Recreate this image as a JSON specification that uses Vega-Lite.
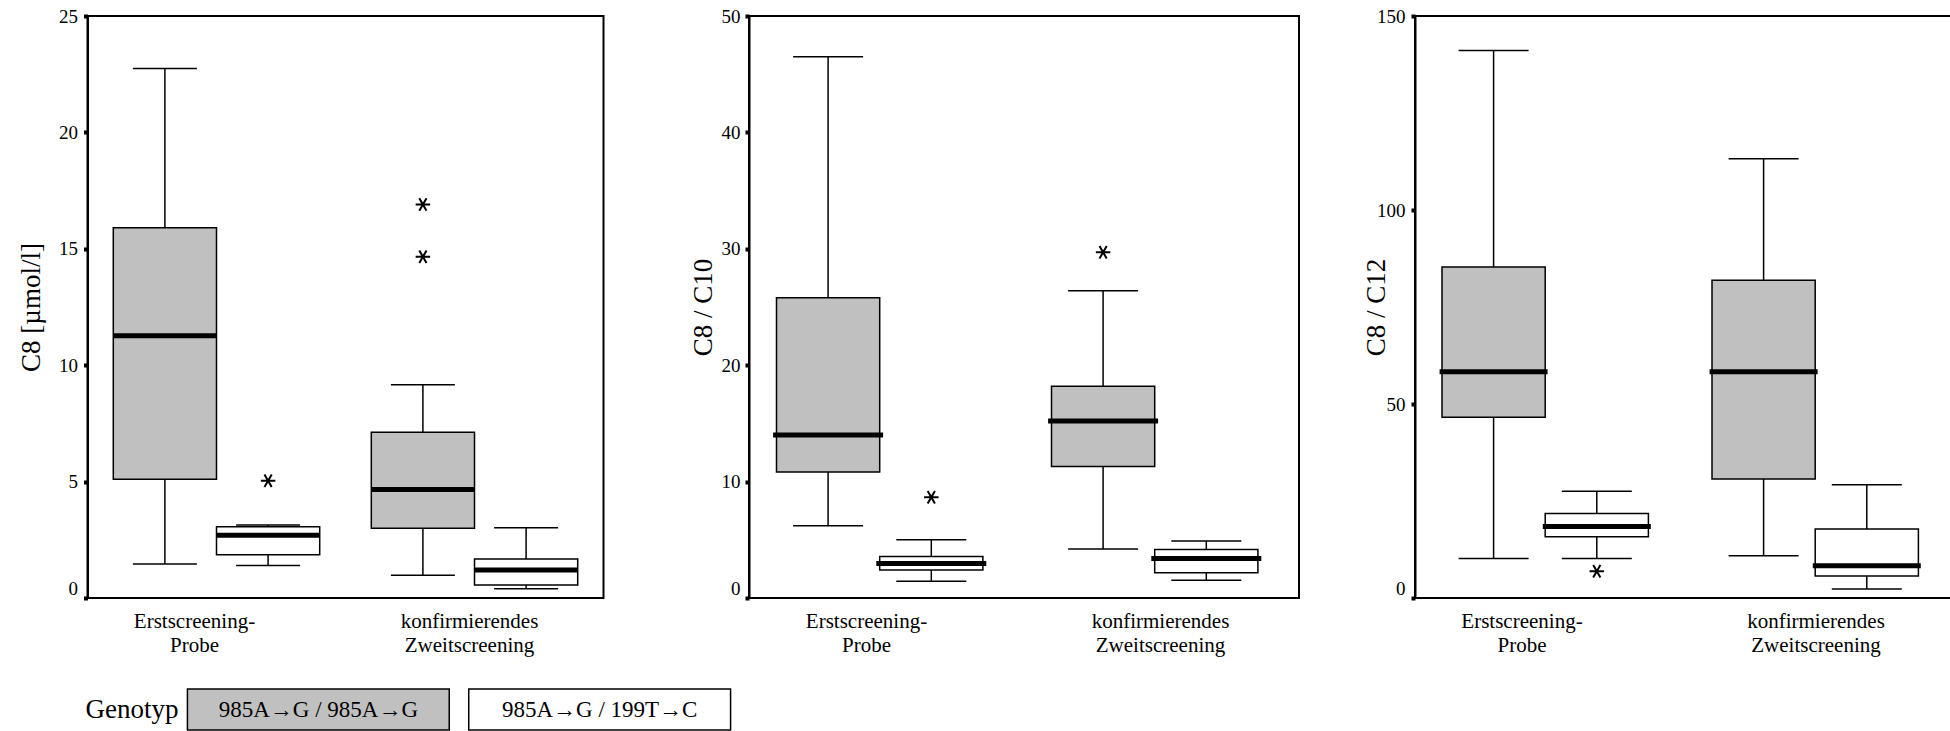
{
  "$schema": "https://vega.github.io/schema/vega-lite/v6.json",
  "background": "white",
  "padding": {"left": 16.5, "top": 6, "right": 0, "bottom": 0},
  "config": {
    "font": "Liberation Serif",
    "view": {"stroke": "black", "strokeWidth": 2},
    "axis": {"grid": false, "labelColor": "black", "titleColor": "black", "domainColor": "black", "tickColor": "black", "labelFont": "Liberation Serif", "titleFont": "Liberation Serif", "titleFontWeight": "normal"}
  },
  "datasets": {
    "p1box": [
      {"cat": "Erstscreening-Probe", "geno": "985A→G / 985A→G", "min": 1.46, "q1": 5.1, "median": 11.26, "q3": 15.9, "max": 22.75},
      {"cat": "Erstscreening-Probe", "geno": "985A→G / 199T→C", "min": 1.4, "q1": 1.86, "median": 2.7, "q3": 3.06, "max": 3.14},
      {"cat": "konfirmierendes Zweitscreening", "geno": "985A→G / 985A→G", "min": 0.98, "q1": 3.0, "median": 4.66, "q3": 7.12, "max": 9.16},
      {"cat": "konfirmierendes Zweitscreening", "geno": "985A→G / 199T→C", "min": 0.4, "q1": 0.56, "median": 1.2, "q3": 1.68, "max": 3.02}
    ],
    "p1out": [
      {"cat": "Erstscreening-Probe", "geno": "985A→G / 199T→C", "value": 5.04},
      {"cat": "konfirmierendes Zweitscreening", "geno": "985A→G / 985A→G", "value": 16.9},
      {"cat": "konfirmierendes Zweitscreening", "geno": "985A→G / 985A→G", "value": 14.66}
    ],
    "p2box": [
      {"cat": "Erstscreening-Probe", "geno": "985A→G / 985A→G", "min": 6.2, "q1": 10.83, "median": 14.0, "q3": 25.8, "max": 46.5},
      {"cat": "Erstscreening-Probe", "geno": "985A→G / 199T→C", "min": 1.44, "q1": 2.4, "median": 2.97, "q3": 3.57, "max": 5.0},
      {"cat": "konfirmierendes Zweitscreening", "geno": "985A→G / 985A→G", "min": 4.2, "q1": 11.3, "median": 15.2, "q3": 18.2, "max": 26.4},
      {"cat": "konfirmierendes Zweitscreening", "geno": "985A→G / 199T→C", "min": 1.52, "q1": 2.17, "median": 3.4, "q3": 4.17, "max": 4.9}
    ],
    "p2out": [
      {"cat": "Erstscreening-Probe", "geno": "985A→G / 199T→C", "value": 8.66},
      {"cat": "konfirmierendes Zweitscreening", "geno": "985A→G / 985A→G", "value": 29.7}
    ],
    "p3box": [
      {"cat": "Erstscreening-Probe", "geno": "985A→G / 985A→G", "min": 10.2, "q1": 46.6, "median": 58.3, "q3": 85.3, "max": 141.1},
      {"cat": "Erstscreening-Probe", "geno": "985A→G / 199T→C", "min": 10.2, "q1": 15.8, "median": 18.4, "q3": 21.8, "max": 27.5},
      {"cat": "konfirmierendes Zweitscreening", "geno": "985A→G / 985A→G", "min": 10.9, "q1": 30.7, "median": 58.3, "q3": 81.9, "max": 113.2},
      {"cat": "konfirmierendes Zweitscreening", "geno": "985A→G / 199T→C", "min": 2.3, "q1": 5.65, "median": 8.3, "q3": 17.8, "max": 29.2}
    ],
    "p3out": [
      {"cat": "Erstscreening-Probe", "geno": "985A→G / 199T→C", "value": 6.9}
    ],
    "legend": [
      {"geno": "985A→G / 985A→G"},
      {"geno": "985A→G / 199T→C"}
    ]
  },
  "vconcat": [
    {
      "spacing": 60.5,
      "hconcat": [
        {
          "spacing": 83.5,
          "hconcat": [
            {
              "width": 516, "height": 582,
              "layer": [
                {"data": {"name": "p1box"}, "mark": {"type": "rule", "color": "black", "strokeWidth": 1.5},
                 "encoding": {
                   "x": {"field": "cat", "type": "nominal", "scale": {"type": "band", "domain": ["Erstscreening-Probe", "konfirmierendes Zweitscreening"], "paddingInner": 0.2, "paddingOuter": 0.1},
                         "axis": {"title": null, "ticks": false, "domain": false, "labelFontSize": 21, "labelLineHeight": 24, "labelPadding": 12, "labelAngle": 0, "labelOverlap": false, "labelLimit": 0,
                                  "labelExpr": "datum.value == 'Erstscreening-Probe' ? ['Erstscreening-', 'Probe'] : ['konfirmierendes', 'Zweitscreening']",
                                  "labelOffset": {"condition": {"test": "datum.value === 'Erstscreening-Probe'", "value": -22}, "value": -5}}},
                   "xOffset": {"field": "geno", "type": "nominal", "scale": {"domain": ["985A→G / 985A→G", "985A→G / 199T→C"], "paddingInner": 0, "paddingOuter": 0}},
                   "y": {"field": "min", "type": "quantitative", "scale": {"domain": [0, 25], "nice": false},
                         "axis": {"title": "C8 [µmol/l]", "values": [0, 5, 10, 15, 20, 25], "tickSize": 4, "tickWidth": 4, "domainWidth": 2, "labelFontSize": 19, "labelPadding": 6, "titleFontSize": 27, "titleX": -56, "titleBaseline": "middle",
                                  "labelOffset": {"condition": {"test": "datum.value === 0", "value": -10}, "value": 0}}},
                   "y2": {"field": "max"}
                 }},
                {"data": {"name": "p1box"}, "mark": {"type": "bar", "stroke": "black", "strokeWidth": 1.5},
                 "encoding": {"x": {"field": "cat", "type": "nominal"}, "xOffset": {"field": "geno", "type": "nominal"},
                   "y": {"field": "q1", "type": "quantitative"}, "y2": {"field": "q3"},
                   "fill": {"field": "geno", "type": "nominal", "scale": {"domain": ["985A→G / 985A→G", "985A→G / 199T→C"], "range": ["#c0c0c0", "#ffffff"]}, "legend": null}}},
                {"data": {"name": "p1box"}, "mark": {"type": "tick", "color": "black", "thickness": 5, "size": 103, "opacity": 1},
                 "encoding": {"x": {"field": "cat", "type": "nominal"}, "xOffset": {"field": "geno", "type": "nominal"}, "y": {"field": "median", "type": "quantitative"}}},
                {"data": {"name": "p1box"}, "mark": {"type": "tick", "color": "black", "thickness": 1.5, "size": 64, "opacity": 1},
                 "encoding": {"x": {"field": "cat", "type": "nominal"}, "xOffset": {"field": "geno", "type": "nominal"}, "y": {"field": "min", "type": "quantitative"}}},
                {"data": {"name": "p1box"}, "mark": {"type": "tick", "color": "black", "thickness": 1.5, "size": 64, "opacity": 1},
                 "encoding": {"x": {"field": "cat", "type": "nominal"}, "xOffset": {"field": "geno", "type": "nominal"}, "y": {"field": "max", "type": "quantitative"}}},
                {"data": {"name": "p1out"}, "mark": {"type": "point", "shape": "M-1,0L1,0M-0.5,-0.866L0.5,0.866M-0.5,0.866L0.5,-0.866", "size": 210, "filled": false, "stroke": "black", "strokeWidth": 2, "opacity": 1},
                 "encoding": {"x": {"field": "cat", "type": "nominal"}, "xOffset": {"field": "geno", "type": "nominal"}, "y": {"field": "value", "type": "quantitative"}}}
              ]
            },
            {
              "width": 550, "height": 582,
              "layer": [
                {"data": {"name": "p2box"}, "mark": {"type": "rule", "color": "black", "strokeWidth": 1.5},
                 "encoding": {
                   "x": {"field": "cat", "type": "nominal", "scale": {"type": "band", "domain": ["Erstscreening-Probe", "konfirmierendes Zweitscreening"], "paddingInner": 0.2, "paddingOuter": 0.1},
                         "axis": {"title": null, "ticks": false, "domain": false, "labelFontSize": 21, "labelLineHeight": 24, "labelPadding": 12, "labelAngle": 0, "labelOverlap": false, "labelLimit": 0,
                                  "labelExpr": "datum.value == 'Erstscreening-Probe' ? ['Erstscreening-', 'Probe'] : ['konfirmierendes', 'Zweitscreening']",
                                  "labelOffset": {"condition": {"test": "datum.value === 'Erstscreening-Probe'", "value": -20}, "value": -1}}},
                   "xOffset": {"field": "geno", "type": "nominal", "scale": {"domain": ["985A→G / 985A→G", "985A→G / 199T→C"], "paddingInner": 0, "paddingOuter": 0}},
                   "y": {"field": "min", "type": "quantitative", "scale": {"domain": [0, 50], "nice": false},
                         "axis": {"title": "C8 / C10", "values": [0, 10, 20, 30, 40, 50], "tickSize": 4, "tickWidth": 4, "domainWidth": 2, "labelFontSize": 19, "labelPadding": 5, "titleFontSize": 27, "titleX": -46, "titleBaseline": "middle",
                                  "labelOffset": {"condition": {"test": "datum.value === 0", "value": -10}, "value": 0}}},
                   "y2": {"field": "max"}
                 }},
                {"data": {"name": "p2box"}, "mark": {"type": "bar", "stroke": "black", "strokeWidth": 1.5},
                 "encoding": {"x": {"field": "cat", "type": "nominal"}, "xOffset": {"field": "geno", "type": "nominal"},
                   "y": {"field": "q1", "type": "quantitative"}, "y2": {"field": "q3"},
                   "fill": {"field": "geno", "type": "nominal", "scale": {"domain": ["985A→G / 985A→G", "985A→G / 199T→C"], "range": ["#c0c0c0", "#ffffff"]}, "legend": null}}},
                {"data": {"name": "p2box"}, "mark": {"type": "tick", "color": "black", "thickness": 5, "size": 110, "opacity": 1},
                 "encoding": {"x": {"field": "cat", "type": "nominal"}, "xOffset": {"field": "geno", "type": "nominal"}, "y": {"field": "median", "type": "quantitative"}}},
                {"data": {"name": "p2box"}, "mark": {"type": "tick", "color": "black", "thickness": 1.5, "size": 70, "opacity": 1},
                 "encoding": {"x": {"field": "cat", "type": "nominal"}, "xOffset": {"field": "geno", "type": "nominal"}, "y": {"field": "min", "type": "quantitative"}}},
                {"data": {"name": "p2box"}, "mark": {"type": "tick", "color": "black", "thickness": 1.5, "size": 70, "opacity": 1},
                 "encoding": {"x": {"field": "cat", "type": "nominal"}, "xOffset": {"field": "geno", "type": "nominal"}, "y": {"field": "max", "type": "quantitative"}}},
                {"data": {"name": "p2out"}, "mark": {"type": "point", "shape": "M-1,0L1,0M-0.5,-0.866L0.5,0.866M-0.5,0.866L0.5,-0.866", "size": 210, "filled": false, "stroke": "black", "strokeWidth": 2, "opacity": 1},
                 "encoding": {"x": {"field": "cat", "type": "nominal"}, "xOffset": {"field": "geno", "type": "nominal"}, "y": {"field": "value", "type": "quantitative"}}}
              ]
            }
          ]
        },
        {
          "width": 540, "height": 582,
          "layer": [
            {"data": {"name": "p3box"}, "mark": {"type": "rule", "color": "black", "strokeWidth": 1.5},
             "encoding": {
               "x": {"field": "cat", "type": "nominal", "scale": {"type": "band", "domain": ["Erstscreening-Probe", "konfirmierendes Zweitscreening"], "paddingInner": 0.2, "paddingOuter": 0.1},
                     "axis": {"title": null, "ticks": false, "domain": false, "labelFontSize": 21, "labelLineHeight": 24, "labelPadding": 12, "labelAngle": 0, "labelOverlap": false, "labelLimit": 0,
                              "labelExpr": "datum.value == 'Erstscreening-Probe' ? ['Erstscreening-', 'Probe'] : ['konfirmierendes', 'Zweitscreening']",
                              "labelOffset": {"condition": {"test": "datum.value === 'Erstscreening-Probe'", "value": -28}, "value": -4}}},
               "xOffset": {"field": "geno", "type": "nominal", "scale": {"domain": ["985A→G / 985A→G", "985A→G / 199T→C"], "paddingInner": 0, "paddingOuter": 0}},
               "y": {"field": "min", "type": "quantitative", "scale": {"domain": [0, 150], "nice": false},
                     "axis": {"title": "C8 / C12", "values": [0, 50, 100, 150], "tickSize": 4, "tickWidth": 4, "domainWidth": 2, "labelFontSize": 19, "labelPadding": 6, "titleFontSize": 27, "titleX": -39, "titleBaseline": "middle",
                              "labelOffset": {"condition": {"test": "datum.value === 0", "value": -10}, "value": 0}}},
               "y2": {"field": "max"}
             }},
            {"data": {"name": "p3box"}, "mark": {"type": "bar", "stroke": "black", "strokeWidth": 1.5},
             "encoding": {"x": {"field": "cat", "type": "nominal"}, "xOffset": {"field": "geno", "type": "nominal"},
               "y": {"field": "q1", "type": "quantitative"}, "y2": {"field": "q3"},
               "fill": {"field": "geno", "type": "nominal", "scale": {"domain": ["985A→G / 985A→G", "985A→G / 199T→C"], "range": ["#c0c0c0", "#ffffff"]}, "legend": null}}},
            {"data": {"name": "p3box"}, "mark": {"type": "tick", "color": "black", "thickness": 5, "size": 108, "opacity": 1},
             "encoding": {"x": {"field": "cat", "type": "nominal"}, "xOffset": {"field": "geno", "type": "nominal"}, "y": {"field": "median", "type": "quantitative"}}},
            {"data": {"name": "p3box"}, "mark": {"type": "tick", "color": "black", "thickness": 1.5, "size": 70, "opacity": 1},
             "encoding": {"x": {"field": "cat", "type": "nominal"}, "xOffset": {"field": "geno", "type": "nominal"}, "y": {"field": "min", "type": "quantitative"}}},
            {"data": {"name": "p3box"}, "mark": {"type": "tick", "color": "black", "thickness": 1.5, "size": 70, "opacity": 1},
             "encoding": {"x": {"field": "cat", "type": "nominal"}, "xOffset": {"field": "geno", "type": "nominal"}, "y": {"field": "max", "type": "quantitative"}}},
            {"data": {"name": "p3out"}, "mark": {"type": "point", "shape": "M-1,0L1,0M-0.5,-0.866L0.5,0.866M-0.5,0.866L0.5,-0.866", "size": 210, "filled": false, "stroke": "black", "strokeWidth": 2, "opacity": 1},
             "encoding": {"x": {"field": "cat", "type": "nominal"}, "xOffset": {"field": "geno", "type": "nominal"}, "y": {"field": "value", "type": "quantitative"}}}
          ]
        }
      ]
    },
    {
      "width": 743, "height": 41,
      "view": {"stroke": null},
      "data": {"name": "legend"},
      "layer": [
        {"mark": {"type": "rect", "stroke": "black", "strokeWidth": 1.5},
         "encoding": {
           "x": {"field": "geno", "type": "nominal", "scale": {"type": "band", "domain": ["985A→G / 985A→G", "985A→G / 199T→C"], "paddingInner": 0.0693, "paddingOuter": 0.3552},
                 "axis": {"title": "Genotyp", "labels": false, "ticks": false, "domain": false, "titleFontSize": 27, "titleX": 44, "titleY": -20.5, "titleAngle": 0, "titleAlign": "center", "titleBaseline": "middle"}},
           "fill": {"field": "geno", "type": "nominal", "scale": {"domain": ["985A→G / 985A→G", "985A→G / 199T→C"], "range": ["#c0c0c0", "#ffffff"]}, "legend": null}
         }},
        {"mark": {"type": "text", "fontSize": 23, "font": "Liberation Serif", "baseline": "middle", "color": "black"},
         "encoding": {"x": {"field": "geno", "type": "nominal"}, "text": {"field": "geno"}}}
      ]
    }
  ],
  "spacing": 32
}
